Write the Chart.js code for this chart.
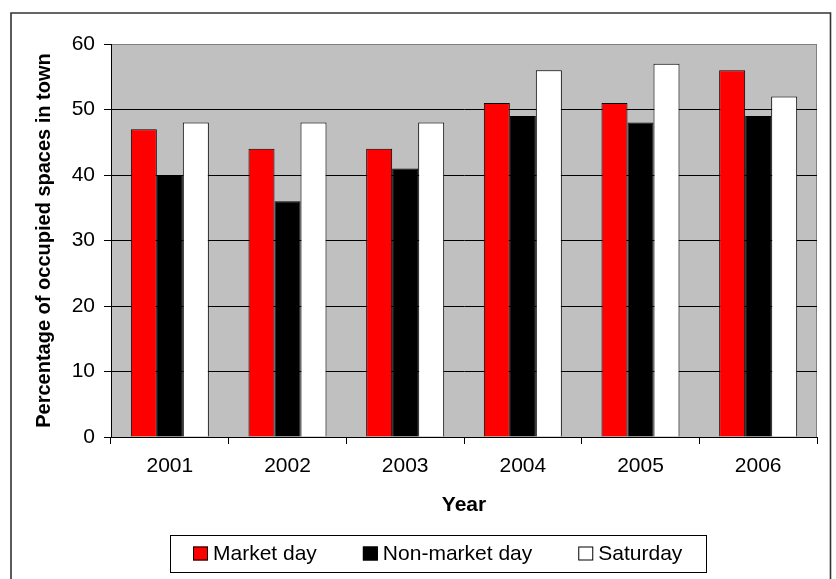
<!DOCTYPE html>
<html>
<head>
<meta charset="utf-8">
<title>Percentage of occupied spaces in town</title>
<script src="https://cdn.jsdelivr.net/npm/chart.js@4.4.1/dist/chart.umd.min.js"></script>
<style>
  html, body { margin: 0; padding: 0; background: #fff; }
  canvas { display: block; }
</style>
</head>
<body>
<canvas id="chart" width="836" height="579"></canvas>
<script>
// Survey years
const years = ['2001', '2002', '2003', '2004', '2005', '2006'];

// Occupancy (%) by type of day
const marketDay = [47, 44, 44, 51, 51, 56];
const nonMarketDay = [40, 36, 41, 49, 48, 49];
const saturday = [48, 48, 48, 56, 57, 52];

// Series names
const seriesNames = ['Market day', 'Non-market day', 'Saturday'];

// Value axis range and step
const yMin = 0;
const yMax = 60;
const yStep = 10;

const FONT = "'Liberation Sans', Arial, Helvetica, sans-serif";

// White page, grey plot area with its frame
const backdrop = {
  id: 'backdrop',
  beforeDraw(chart) {
    const { ctx, chartArea: a } = chart;
    ctx.save();
    ctx.fillStyle = '#ffffff';
    ctx.fillRect(0, 0, chart.width, chart.height);
    ctx.fillStyle = '#C0C0C0';
    ctx.fillRect(a.left, a.top, a.right - a.left, a.bottom - a.top);
    ctx.strokeStyle = '#808080';
    ctx.lineWidth = 1;
    ctx.strokeRect(Math.round(a.left) + 0.5, Math.round(a.top) + 0.5,
                   Math.round(a.right - a.left) - 1, Math.round(a.bottom - a.top));
    ctx.restore();
  }
};

// Outer border and the boxed legend underneath the axis
const outerAndLegend = {
  id: 'outerAndLegend',
  afterDraw(chart) {
    const { ctx } = chart;
    ctx.save();
    // outer border (open at the bottom edge)
    ctx.strokeStyle = '#333333';
    ctx.lineWidth = 1.6;
    ctx.beginPath();
    ctx.moveTo(11, chart.height);
    ctx.lineTo(11, 13);
    ctx.lineTo(830.5, 13);
    ctx.lineTo(830.5, chart.height);
    ctx.stroke();

    // legend frame
    ctx.strokeStyle = '#000';
    ctx.lineWidth = 1;
    ctx.strokeRect(170.5, 535.5, 536, 37);

    // legend entries
    ctx.font = '21px ' + FONT;
    ctx.textBaseline = 'middle';
    ctx.textAlign = 'left';
    let x = 193;
    const boxW = 15, boxH = 14, cy = 554;
    chart.data.datasets.forEach(ds => {
      ctx.fillStyle = ds.backgroundColor;
      ctx.fillRect(x, cy - boxH / 2 - 0.5, boxW, boxH);
      ctx.strokeStyle = '#000';
      ctx.strokeRect(x + 0.5, cy - boxH / 2, boxW - 1, boxH - 1);
      ctx.fillStyle = '#000';
      ctx.fillText(ds.label, x + boxW + 5, cy);
      x += boxW + 5 + ctx.measureText(ds.label).width + 46;
    });
    ctx.restore();
  }
};

new Chart(document.getElementById('chart'), {
  type: 'bar',
  data: {
    labels: years,
    datasets: [
      { label: seriesNames[0], data: marketDay, backgroundColor: '#FF0000' },
      { label: seriesNames[1], data: nonMarketDay, backgroundColor: '#000000' },
      { label: seriesNames[2], data: saturday, backgroundColor: '#FFFFFF' }
    ].map(d => Object.assign(d, {
      borderColor: '#000',
      borderWidth: 1,
      categoryPercentage: 0.663,
      barPercentage: 1
    }))
  },
  options: {
    responsive: false,
    devicePixelRatio: 1,
    animation: false,
    events: [],
    layout: { padding: { top: 44, right: 19, left: 11, bottom: 60 } },
    plugins: {
      legend: { display: false },
      tooltip: { enabled: false },
      title: { display: false }
    },
    scales: {
      x: {
        grid: {
          offset: true,
          drawOnChartArea: false,
          drawTicks: true,
          tickLength: 7,
          tickColor: '#000',
          color: '#000'
        },
        border: { color: '#000', width: 1 },
        ticks: { color: '#000', padding: 10, font: { family: FONT, size: 21 } },
        title: {
          display: true,
          text: 'Year',
          color: '#000',
          font: { family: FONT, size: 21, weight: 'bold' },
          padding: { top: 0, bottom: 1 }
        },
        afterFit(scale) { scale.height = 82; }
      },
      y: {
        min: yMin,
        max: yMax,
        ticks: { stepSize: yStep, color: '#000', padding: 9, font: { family: FONT, size: 21 } },
        grid: {
          color: c => (c.tick && c.tick.value === yMax ? '#808080' : '#000'),
          tickColor: '#000',
          tickLength: 7,
          lineWidth: 1
        },
        border: { color: '#000', width: 1 },
        title: {
          display: true,
          text: 'Percentage of occupied spaces in town',
          color: '#000',
          font: { family: FONT, size: 20, weight: 'bold' },
          padding: { top: 21, bottom: 0 }
        },
        afterFit(scale) { scale.width = 100; }
      }
    }
  },
  plugins: [backdrop, outerAndLegend]
});
</script>
</body>
</html>
